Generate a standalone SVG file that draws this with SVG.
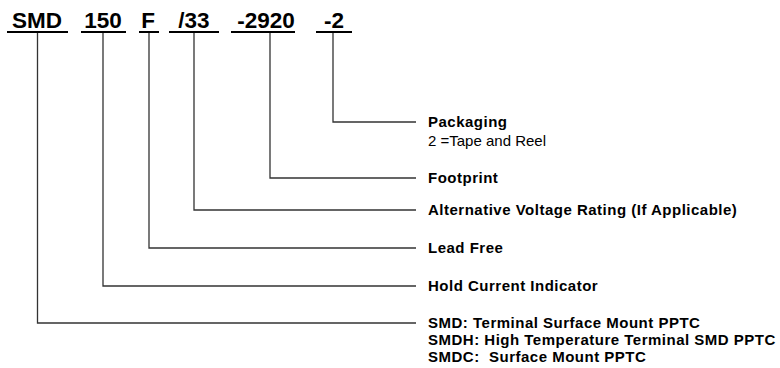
<svg xmlns="http://www.w3.org/2000/svg" width="780" height="368" viewBox="0 0 780 368">
<style>
.code{font-family:"Liberation Sans",Arial,sans-serif;font-weight:bold;font-size:22.5px;fill:#000;text-anchor:middle}
.ul{stroke:#000;stroke-width:2;fill:none}
.con{stroke:#333;stroke-width:1.3;fill:none}
.lbl{font-family:"Liberation Sans",Arial,sans-serif;font-weight:bold;font-size:15px;letter-spacing:0.5px;fill:#000;white-space:pre}
.sub{font-family:"Liberation Sans",Arial,sans-serif;font-size:15px;fill:#000;white-space:pre}
</style>
<rect width="780" height="368" fill="#fff"/>
<g id="code-smd"><text class="code" x="37" y="28">SMD</text><line class="ul" x1="7" y1="32" x2="68" y2="32"/></g>
<g id="code-150"><text class="code" x="103" y="28">150</text><line class="ul" x1="81" y1="32" x2="126" y2="32"/></g>
<g id="code-f"><text class="code" x="148" y="28">F</text><line class="ul" x1="139" y1="32" x2="159" y2="32"/></g>
<g id="code-33"><text class="code" x="194" y="28">/33</text><line class="ul" x1="169" y1="32" x2="219" y2="32"/></g>
<g id="code-2920"><text class="code" x="266" y="28">-2920</text><line class="ul" x1="231" y1="32" x2="295" y2="32"/></g>
<g id="code-2"><text class="code" x="334" y="28">-2</text><line class="ul" x1="316" y1="32" x2="352" y2="32"/></g>
<g id="connectors">
<polyline class="con" points="333,33 333,122 416,122"/>
<polyline class="con" points="270,33 270,178 416,178"/>
<polyline class="con" points="194,33 194,210 416,210"/>
<polyline class="con" points="149,33 149,248 416,248"/>
<polyline class="con" points="103,33 103,286 416,286"/>
<polyline class="con" points="37.5,33 37.5,323 416,323"/>
</g>
<g id="lbl-packaging"><text class="lbl" x="428" y="127">Packaging</text><text class="sub" x="428" y="146" xml:space="preserve">2 =Tape and Reel</text></g>
<g id="lbl-footprint"><text class="lbl" x="428" y="183">Footprint</text></g>
<g id="lbl-voltage"><text class="lbl" x="428" y="215">Alternative Voltage Rating (If Applicable)</text></g>
<g id="lbl-leadfree"><text class="lbl" x="428" y="253">Lead Free</text></g>
<g id="lbl-hold"><text class="lbl" x="428" y="291">Hold Current Indicator</text></g>
<g id="lbl-smd"><text class="lbl" x="428" y="328" xml:space="preserve">SMD: Terminal Surface Mount PPTC</text><text class="lbl" x="428" y="345" xml:space="preserve">SMDH: High Temperature Terminal SMD PPTC</text><text class="lbl" x="428" y="362" xml:space="preserve">SMDC:  Surface Mount PPTC</text></g>
</svg>
